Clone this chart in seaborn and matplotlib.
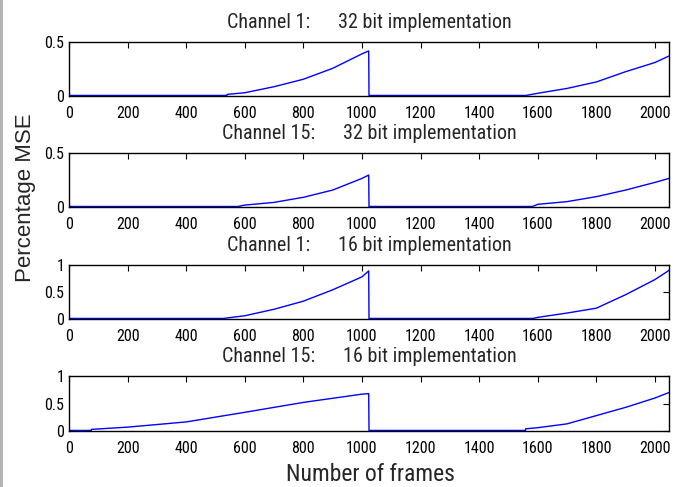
import matplotlib
matplotlib.use("Agg")
import seaborn as sns
import matplotlib.pyplot as plt
from matplotlib.patches import Rectangle
from matplotlib import font_manager

# Data (frame index, percentage MSE)
titles = [
    "Channel 1:      32 bit implementation",
    "Channel 15:      32 bit implementation",
    "Channel 1:      16 bit implementation",
    "Channel 15:      16 bit implementation",
]

ch1_32_frames = [0, 539, 540, 600, 700, 800, 900, 1000, 1023, 1024, 1560, 1600, 1700, 1800, 1900, 2000, 2048]
ch1_32_mse = [0.005, 0.005, 0.015, 0.03, 0.086, 0.155, 0.256, 0.39, 0.417, 0.005, 0.005, 0.025, 0.07, 0.13, 0.225, 0.31, 0.37]

ch15_32_frames = [0, 577, 600, 700, 800, 900, 1000, 1023, 1024, 1582, 1600, 1700, 1800, 1900, 2000, 2048]
ch15_32_mse = [0.005, 0.005, 0.018, 0.043, 0.09, 0.157, 0.265, 0.296, 0.005, 0.005, 0.025, 0.05, 0.096, 0.157, 0.228, 0.265]

ch1_16_frames = [0, 527, 600, 700, 800, 900, 1000, 1023, 1024, 1584, 1600, 1700, 1800, 1900, 2000, 2048]
ch1_16_mse = [0.01, 0.01, 0.06, 0.18, 0.33, 0.54, 0.78, 0.89, 0.01, 0.01, 0.03, 0.11, 0.2, 0.45, 0.73, 0.9]

ch15_16_frames = [0, 76, 77, 200, 400, 600, 800, 1000, 1023, 1024, 1558, 1559, 1600, 1700, 1800, 1900, 2000, 2048]
ch15_16_mse = [0.01, 0.01, 0.03, 0.07, 0.165, 0.34, 0.52, 0.67, 0.68, 0.01, 0.01, 0.04, 0.06, 0.13, 0.28, 0.43, 0.6, 0.70]

frames = [ch1_32_frames, ch15_32_frames, ch1_16_frames, ch15_16_frames]
mse = [ch1_32_mse, ch15_32_mse, ch1_16_mse, ch15_16_mse]
ylims = [0.5, 0.5, 1, 1]
yticks = [[0, 0.5], [0, 0.5], [0, 0.5, 1], [0, 0.5, 1]]
yticklabels = [["0", "0.5"], ["0", "0.5"], ["0", "0.5", "1"], ["0", "0.5", "1"]]
xticks = list(range(0, 2001, 200))

sns.set_style("white")
plt.rcParams["font.family"] = ["Liberation Sans", "DejaVu Sans"]

# the reference text looks condensed; use a condensed face if one is installed
installed = {f.name for f in font_manager.fontManager.ttflist}
cond = None
for name in ["Roboto Condensed", "Liberation Sans Narrow", "Open Sans Condensed"]:
    if name in installed:
        cond = name
        break

if cond:
    small_font = [cond, "DejaVu Sans"]
    tick_size, title_size, xlab_size = 11.5, 14.5, 17
else:
    small_font = ["Liberation Sans", "DejaVu Sans"]
    tick_size, title_size, xlab_size = 9.5, 12.5, 15.3

fig = plt.figure(figsize=(6.79, 4.87), dpi=100)
fig.patch.set_facecolor("white")
fig.patches.append(Rectangle((0, 0), 0.005, 1, transform=fig.transFigure,
                             facecolor="#b4b4b4", edgecolor="none"))

# axes boxes [left, bottom, width, height] in figure fractions
boxes = [
    [0.1016, 0.8029, 0.8837, 0.1109],
    [0.1016, 0.5749, 0.8837, 0.1109],
    [0.1016, 0.3450, 0.8837, 0.1109],
    [0.1016, 0.1150, 0.8837, 0.1129],
]

for i in range(4):
    ax = fig.add_axes(boxes[i])
    sns.lineplot(x=frames[i], y=mse[i], ax=ax, color="#0000ff", linewidth=1.0)
    ax.set_xlim(0, 2048)
    ax.set_ylim(0, ylims[i])
    ax.set_xticks(xticks)
    ax.set_xticklabels([str(t) for t in xticks], family=small_font, fontsize=tick_size)
    ax.set_yticks(yticks[i])
    ax.set_yticklabels(yticklabels[i], family=small_font, fontsize=tick_size)
    ax.tick_params(direction="in", top=True, right=True, length=4.3, width=0.8, colors="black")
    ax.tick_params(axis="x", pad=7)
    ax.tick_params(axis="y", pad=3.5)
    for s in ax.spines.values():
        s.set_visible(True)
        s.set_color("black")
        s.set_linewidth(1.0)
    ax.set_title(titles[i], fontsize=title_size, pad=10, family=small_font)

fig.text(0.037, 0.421, "Percentage MSE", rotation=90,
         ha="center", va="bottom", fontsize=16)
fig.text(0.545, 0.013, "Number of frames", ha="center", va="baseline",
         fontsize=xlab_size, family=small_font)

fig.savefig("out.png", dpi=100)
